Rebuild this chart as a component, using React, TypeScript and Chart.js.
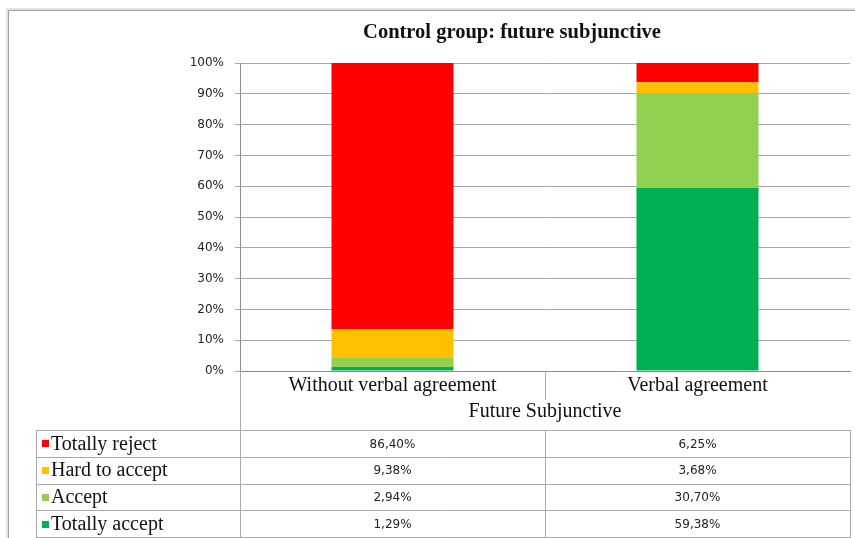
import React, { useEffect, useRef } from "react";
import { Chart, registerables } from "chart.js";

Chart.register(...registerables);

const chartTitle = "Control group: future subjunctive";
const axisTitle = "Future Subjunctive";
const categories = ["Without verbal agreement", "Verbal agreement"];
// stacked bottom -> top
const seriesNames = ["Totally accept", "Accept", "Hard to accept", "Totally reject"];
const totallyAccept = [1.29, 59.38];
const accept = [2.94, 30.7];
const hardToAccept = [9.38, 3.68];
const totallyReject = [86.4, 6.25];
const seriesColors = ["#00B050", "#92D050", "#FFC000", "#FF0000"];
const yTicks = [0, 10, 20, 30, 40, 50, 60, 70, 80, 90, 100];

const seriesValues = [totallyAccept, accept, hardToAccept, totallyReject];

const SERIF = "'Liberation Serif', 'Times New Roman', serif";
const SANS = "'DejaVu Sans', sans-serif";

const fmt = (v: number) => v.toFixed(2).replace(".", ",") + "%";

const tablePlugin = {
  id: "dataTable",
  beforeDraw(chart: any) {
    const ctx = chart.ctx;
    ctx.save();
    ctx.fillStyle = "#ffffff";
    ctx.fillRect(0, 0, chart.width, chart.height);
    // outer frame with soft shadow
    ctx.strokeStyle = "#e4e4e4";
    ctx.lineWidth = 3;
    ctx.beginPath();
    ctx.moveTo(7.5, chart.height);
    ctx.lineTo(7.5, 9.5);
    ctx.lineTo(chart.width, 9.5);
    ctx.stroke();
    ctx.strokeStyle = "#a0a0a0";
    ctx.lineWidth = 1;
    ctx.beginPath();
    ctx.moveTo(8.5, chart.height);
    ctx.lineTo(8.5, 10.5);
    ctx.lineTo(chart.width, 10.5);
    ctx.stroke();
    ctx.restore();
  },
  afterDraw(chart: any) {
    const { ctx, chartArea } = chart;
    const xs = chart.scales.x;
    const left = chartArea.left;
    const right = chartArea.right;
    const bottom = chartArea.bottom;
    const tableTop = xs.bottom;
    const tableBottom = chart.height - 1;
    const tableLeft = 36;
    const nRows = seriesNames.length;
    const rowH = (tableBottom - tableTop) / nRows;
    const centers = categories.map((_, i) => xs.getPixelForValue(i));
    const mid = (centers[0] + centers[1]) / 2;
    const px = (v: number) => Math.round(v) + 0.5;

    ctx.save();
    ctx.strokeStyle = "#a9a9a9";
    ctx.lineWidth = 1;
    ctx.beginPath();
    // vertical lines
    ctx.moveTo(px(left), bottom);
    ctx.lineTo(px(left), tableBottom);
    ctx.moveTo(px(mid), bottom);
    ctx.lineTo(px(mid), bottom + 29);
    ctx.moveTo(px(mid), tableTop);
    ctx.lineTo(px(mid), tableBottom);
    ctx.moveTo(px(right), tableTop);
    ctx.lineTo(px(right), tableBottom);
    ctx.moveTo(px(tableLeft), tableTop);
    ctx.lineTo(px(tableLeft), tableBottom);
    // horizontal lines
    for (let r = 0; r <= nRows; r++) {
      const y = px(tableTop + r * rowH);
      ctx.moveTo(tableLeft, y);
      ctx.lineTo(right + 1, y);
    }
    ctx.stroke();

    // rows: top series first
    for (let r = 0; r < nRows; r++) {
      const si = nRows - 1 - r;
      const cy = tableTop + r * rowH + rowH / 2;
      ctx.fillStyle = seriesColors[si];
      ctx.fillRect(tableLeft + 6, Math.round(cy - 3), 7, 7);
      ctx.fillStyle = "#111111";
      ctx.font = `20px ${SERIF}`;
      ctx.textAlign = "left";
      ctx.textBaseline = "middle";
      ctx.fillText(seriesNames[si], tableLeft + 15, cy + 1);
      ctx.font = `12px ${SANS}`;
      ctx.textAlign = "center";
      ctx.fillStyle = "#222222";
      seriesValues[si].forEach((v, ci) => {
        ctx.fillText(fmt(v), centers[ci], cy + 1);
      });
    }
    ctx.restore();
  },
};

export default function App() {
  const ref = useRef<HTMLCanvasElement | null>(null);

  useEffect(() => {
    if (!ref.current) return;
    const chart = new Chart(ref.current, {
      type: "bar",
      data: {
        labels: categories,
        datasets: seriesNames.map((name, i) => ({
          label: name,
          data: seriesValues[i],
          backgroundColor: seriesColors[i],
          borderWidth: 0,
          categoryPercentage: 1,
          barPercentage: 0.4,
        })),
      },
      options: {
        animation: false,
        responsive: false,
        devicePixelRatio: 1,
        layout: { padding: { top: 0, left: 174, right: 5, bottom: 108 } },
        plugins: {
          legend: { display: false },
          tooltip: { enabled: false },
          title: {
            display: true,
            text: chartTitle,
            color: "#111111",
            font: { family: SERIF, size: 20.5, weight: "bold", lineHeight: 1.2 },
            padding: { top: 20, bottom: 18.4 },
          },
        },
        scales: {
          x: {
            stacked: true,
            grid: { display: false, drawTicks: false },
            border: { display: true, color: "#8c8c8c", width: 1 },
            ticks: {
              color: "#111111",
              font: { family: SERIF, size: 20, lineHeight: 1.2 },
              padding: 3,
              maxRotation: 0,
              autoSkip: false,
            },
            title: {
              display: true,
              text: axisTitle,
              color: "#111111",
              font: { family: SERIF, size: 20, lineHeight: 1.2 },
              padding: { top: 0, bottom: 6 },
            },
            afterFit(axis: any) {
              axis.height = 59;
            },
          },
          y: {
            stacked: true,
            min: 0,
            max: 100,
            afterBuildTicks(axis: any) {
              axis.ticks = yTicks.map((v) => ({ value: v }));
            },
            grid: { color: "#a6a6a6", tickLength: 5, drawTicks: true },
            border: { display: true, color: "#8c8c8c", width: 1 },
            ticks: {
              color: "#222222",
              font: { family: SANS, size: 12 },
              padding: 11,
              callback: (v: any) => `${v}%`,
            },
            afterFit(axis: any) {
              axis.width = 66;
            },
          },
        },
      },
      plugins: [tablePlugin],
    });
    return () => chart.destroy();
  }, []);

  return (
    <div style={{ position: "absolute", left: 0, top: 0, width: 855, height: 538 }}>
      <canvas ref={ref} width={855} height={538} style={{ display: "block", width: 855, height: 538 }} />
    </div>
  );
}
